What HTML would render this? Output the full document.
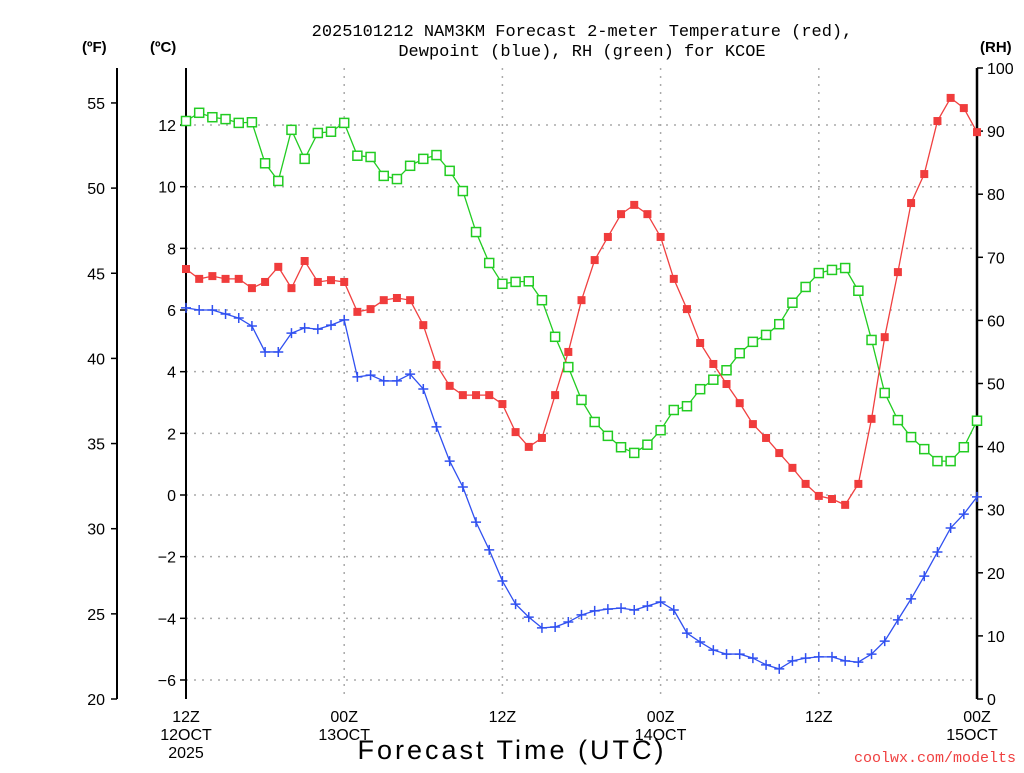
<!DOCTYPE html>
<html><head><meta charset="utf-8"><style>
html,body{margin:0;padding:0;background:#fff;}
svg text{font-family:"Liberation Sans",sans-serif;}
</style></head><body>
<svg id="chart" width="1024" height="768" xmlns="http://www.w3.org/2000/svg">
<g id="grid"></g>
<g id="axes"></g>
<g id="series"></g>
<text x="582" y="36" font-size="17" text-anchor="middle" style="font-family:'Liberation Mono',monospace">2025101212 NAM3KM Forecast 2-meter Temperature (red),</text>
<text x="582" y="56" font-size="17" text-anchor="middle" style="font-family:'Liberation Mono',monospace">Dewpoint (blue), RH (green) for KCOE</text>
<text x="82" y="52" font-size="15" font-weight="bold">(ºF)</text>
<text x="150" y="52" font-size="15" font-weight="bold">(ºC)</text>
<text x="980" y="52" font-size="15" font-weight="bold">(RH)</text>
<text x="512" y="759" font-size="27" text-anchor="middle" letter-spacing="3">Forecast Time (UTC)</text>
<text x="1016" y="762" font-size="15" fill="#f04040" text-anchor="end" style="font-family:'Liberation Mono',monospace">coolwx.com/modelts</text>
</svg>
<script>
const hours = Array.from({length:61},(_,i)=>i);
const tempC = [7.33,7.01,7.10,7.01,7.01,6.71,6.91,7.40,6.71,7.59,6.91,6.97,6.91,5.94,6.03,6.32,6.39,6.32,5.51,4.22,3.54,3.24,3.24,3.24,2.95,2.04,1.56,1.85,3.24,4.64,6.32,7.62,8.37,9.11,9.41,9.11,8.37,7.01,6.03,4.93,4.25,3.60,2.98,2.30,1.85,1.36,0.88,0.36,-0.03,-0.13,-0.32,0.36,2.47,5.12,7.23,9.47,10.41,12.13,12.88,12.55,11.77];
const dewC = [6.07,6.00,6.00,5.87,5.74,5.48,4.64,4.64,5.25,5.42,5.38,5.51,5.68,3.83,3.89,3.70,3.70,3.92,3.44,2.21,1.10,0.26,-0.88,-1.78,-2.79,-3.54,-3.96,-4.31,-4.28,-4.12,-3.89,-3.76,-3.70,-3.67,-3.73,-3.60,-3.47,-3.73,-4.48,-4.77,-5.03,-5.16,-5.16,-5.29,-5.51,-5.64,-5.38,-5.29,-5.25,-5.25,-5.38,-5.42,-5.16,-4.74,-4.05,-3.37,-2.63,-1.85,-1.07,-0.62,-0.06];
const rh = [91.6,92.9,92.2,91.9,91.3,91.4,84.9,82.1,90.2,85.6,89.7,89.9,91.3,86.1,85.9,82.9,82.4,84.5,85.6,86.2,83.7,80.5,74.0,69.1,65.8,66.1,66.2,63.2,57.4,52.6,47.4,43.9,41.7,39.9,39.0,40.3,42.6,45.8,46.4,49.1,50.6,52.1,54.8,56.6,57.7,59.4,62.8,65.3,67.5,68.0,68.3,64.7,56.9,48.5,44.2,41.5,39.6,37.7,37.7,39.9,44.1];
const fTicks = [20,25,30,35,40,45,50,55];
const cTicks = [-6,-4,-2,0,2,4,6,8,10,12];
const rhTicks = [0,10,20,30,40,50,60,70,80,90,100];
const xTickHours = [0,12,24,36,48,60];
const xTickLabels = [["12Z","12OCT","2025"],["00Z","13OCT"],["12Z"],["00Z","14OCT"],["12Z"],["00Z","15OCT"]];

const X0=186,X1=977,Y0=699,Y1=68;
const xS=h=>X0+(X1-X0)*h/60;
const yC=c=>495-c*30.83;
const yF=f=>699-(f-20)*17.03;
const yR=r=>Y0-(Y0-Y1)*r/100;
const NS="http://www.w3.org/2000/svg";
function mk(tag,attrs,parent){const e=document.createElementNS(NS,tag);for(const k in attrs)e.setAttribute(k,attrs[k]);parent.appendChild(e);return e;}
const grid=document.getElementById('grid'),axes=document.getElementById('axes'),ser=document.getElementById('series');

cTicks.forEach(c=>{
  const g=mk('line',{x1:X0,x2:X1,y1:yC(c),y2:yC(c),stroke:'#aaa','stroke-dasharray':'2,6','stroke-width':1.5},grid);
  
  
  const t=mk('line',{x1:X0-6,x2:X0,y1:yC(c),y2:yC(c),stroke:'#000','stroke-width':1.5},axes);
  
  
  const l=mk('text',{x:X0-10,y:yC(c)+6,'font-size':16,'text-anchor':'end'},axes);l.textContent=(c<0?'−'+(-c):c);
  
  
});
xTickHours.forEach((h,i)=>{
  if(h>0&&h<60){const g=mk('line',{x1:xS(h),x2:xS(h),y1:Y1,y2:Y0,stroke:'#aaa','stroke-dasharray':'2,6','stroke-width':1.5},grid);
  
  }
  xTickLabels[i].forEach((s,j)=>{
    const t=mk('text',{x:xS(h)+(i==5&&j>0?-5:0),y:722+j*18,'font-size':16,'text-anchor':'middle'},axes);t.textContent=s;
    
    
  });
});
fTicks.forEach(f=>{
  const t=mk('line',{x1:111,x2:117,y1:yF(f),y2:yF(f),stroke:'#000','stroke-width':1.5},axes);
  
  
  const l=mk('text',{x:105,y:yF(f)+6,'font-size':16,'text-anchor':'end'},axes);l.textContent=f;
  
  
});
rhTicks.forEach(r=>{
  const t=mk('line',{x1:X1,x2:X1+6,y1:yR(r),y2:yR(r),stroke:'#000','stroke-width':1.5},axes);
  
  
  const l=mk('text',{x:987,y:yR(r)+6,'font-size':16},axes);l.textContent=r;
  
  
});
let a=mk('line',{x1:117,x2:117,y1:68,y2:699,stroke:'#000','stroke-width':2},axes);


a=mk('line',{x1:X0,x2:X0,y1:Y1,y2:Y0,stroke:'#000','stroke-width':2},axes);


a=mk('line',{x1:X1,x2:X1,y1:Y1,y2:Y0,stroke:'#000','stroke-width':2.5},axes);



function line(vals,yf,color,name){
  const p=mk('polyline',{points:vals.map((v,i)=>xS(hours[i])+','+yf(v)).join(' '),fill:'none',stroke:color,'stroke-width':1.3},ser);
  
  
}
line(rh,yR,'#22cc22','rh-line');
line(tempC,yC,'#f04040','temperature-line');
line(dewC,yC,'#3050f0','dewpoint-line');
rh.forEach((v,i)=>{const m=mk('rect',{x:xS(hours[i])-4.5,y:yR(v)-4.5,width:9,height:9,fill:'#fff',stroke:'#22cc22','stroke-width':1.5},ser);
  
  });
tempC.forEach((v,i)=>{const m=mk('rect',{x:xS(hours[i])-4,y:yC(v)-4,width:8,height:8,fill:'#f03c3c'},ser);
  
  });
dewC.forEach((v,i)=>{const x=xS(hours[i]),y=yC(v);
  const m=mk('path',{d:`M${x-5},${y}H${x+5}M${x},${y-5}V${y+5}`,stroke:'#3050f0','stroke-width':1.5},ser);
  
  });
</script>
</body></html>
